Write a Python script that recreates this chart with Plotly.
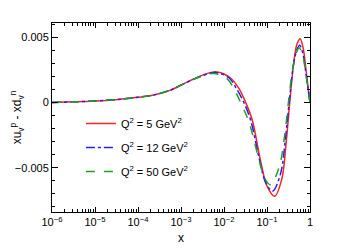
import plotly.graph_objects as go

# Data
x_red = [1e-6, 3e-6, 1e-5, 3e-5, 1e-4, 2.2e-4, 5.5e-4, 1.35e-3, 3.2e-3, 6.8e-3, 1.4e-2,
         2.2e-2, 3.1e-2, 4.5e-2, 7e-2, 0.1, 0.15, 0.22, 0.28, 0.34, 0.42, 0.5, 0.59,
         0.7, 0.8, 0.9, 1.0]
y_red = [0.0, 0.00005, 0.00012, 0.00022, 0.0004, 0.00056, 0.00093, 0.00155, 0.0021, 0.00235,
         0.0019, 0.0011, 0.0001, -0.0013, -0.0044, -0.0064, -0.0072, -0.0059, -0.0030,
         0.0001, 0.0031, 0.0045, 0.0049, 0.0041, 0.0026, 0.0012, 0.0]

x_blue = [1e-6, 3e-6, 1e-5, 3e-5, 1e-4, 2.2e-4, 5.5e-4, 1.35e-3, 3.1e-3, 6.3e-3, 1.3e-2,
          2e-2, 2.9e-2, 4.2e-2, 6.6e-2, 0.095, 0.135, 0.205, 0.27, 0.33, 0.41, 0.49, 0.575,
          0.69, 0.8, 0.9, 1.0]
y_blue = [0.0, 0.00005, 0.00012, 0.00022, 0.0004, 0.00056, 0.00093, 0.00155, 0.00205, 0.0023,
          0.0019, 0.0010, 0.0000, -0.0014, -0.0043, -0.0062, -0.0068, -0.0055, -0.0027,
          0.0001, 0.0028, 0.0040, 0.0044, 0.0037, 0.0023, 0.0011, 0.0]

x_green = [1e-6, 3e-6, 1e-5, 3e-5, 1e-4, 2.2e-4, 5.5e-4, 1.35e-3, 2.9e-3, 5.8e-3, 1.2e-2,
           1.8e-2, 2.6e-2, 3.8e-2, 6.2e-2, 0.088, 0.12, 0.19, 0.26, 0.32, 0.4, 0.48, 0.56,
           0.68, 0.79, 0.9, 1.0]
y_green = [0.0, 0.00005, 0.00012, 0.00022, 0.0004, 0.00056, 0.00093, 0.00155, 0.0020, 0.00222,
           0.0018, 0.0009, -0.0002, -0.0015, -0.0041, -0.0058, -0.0063, -0.0050, -0.0024,
           0.0002, 0.0027, 0.0038, 0.0042, 0.0036, 0.0023, 0.0011, 0.0]

labels = ["Q<sup>2</sup> = 5 GeV<sup>2</sup>",
          "Q<sup>2</sup> = 12 GeV<sup>2</sup>",
          "Q<sup>2</sup> = 50 GeV<sup>2</sup>"]

x_tickvals = [1e-6, 1e-5, 1e-4, 1e-3, 1e-2, 1e-1, 1]
x_ticktext = ["10<sup>−6</sup>", "10<sup>−5</sup>", "10<sup>−4</sup>", "10<sup>−3</sup>",
              "10<sup>−2</sup>", "10<sup>−1</sup>", "1"]
x_minor = [m * d for d in x_tickvals[:-1] for m in range(2, 10)]

fig = go.Figure()
series = [(x_red, y_red, "#ff2020", "solid", labels[0]),
          (x_blue, y_blue, "#2020ff", "dashdot", labels[1]),
          (x_green, y_green, "#20a020", "dash", labels[2])]
for i, (xs, ys, col, dash, name) in enumerate(series):
    fig.add_trace(go.Scatter(x=xs, y=ys, mode="lines", name=name, legendgroup=f"g{i}",
                             line=dict(color=col, width=1.5, dash=dash, shape="spline", smoothing=1.0)))

font = "Liberation Sans, Arial, sans-serif"
# the page body adds an 8px offset; figure size and margins compensate for it
fig.update_layout(
    width=333, height=242,
    margin=dict(l=44, r=31, t=15, b=38),
    paper_bgcolor="white", plot_bgcolor="white",
    font=dict(family=font, size=11, color="black"),
    showlegend=True,
    legend=dict(x=0.112, y=0.545, xanchor="left", yanchor="top",
                bgcolor="rgba(0,0,0,0)", font=dict(size=11), tracegroupgap=5,
                itemwidth=30),
)
fig.update_xaxes(type="log", range=[-6, 0], tickmode="array", tickvals=x_tickvals, ticktext=x_ticktext,
                 ticks="inside", ticklen=5, tickcolor="black", showgrid=False, zeroline=False,
                 showline=True, linecolor="black", linewidth=1, mirror="ticks", automargin=False,
                 minor=dict(tickmode="array", tickvals=x_minor, ticks="inside", ticklen=3,
                            tickcolor="black", showgrid=False),
                 title=dict(text="x", standoff=6, font=dict(size=12)))
fig.update_yaxes(range=[-0.0084, 0.0061], tickmode="linear", tick0=0, dtick=0.005,
                 ticks="inside", ticklen=6, tickcolor="black", showgrid=False, zeroline=False,
                 showline=True, linecolor="black", linewidth=1, mirror="ticks", automargin=False,
                 minor=dict(ticks="inside", ticklen=3, dtick=0.001, tick0=0, tickcolor="black", showgrid=False),
                 title=dict(text="xu<sub>v</sub><sup>p</sup> - xd<sub>v</sub><sup>n</sup>", standoff=4,
                            font=dict(size=12)))

fig.write_html("out.html")
